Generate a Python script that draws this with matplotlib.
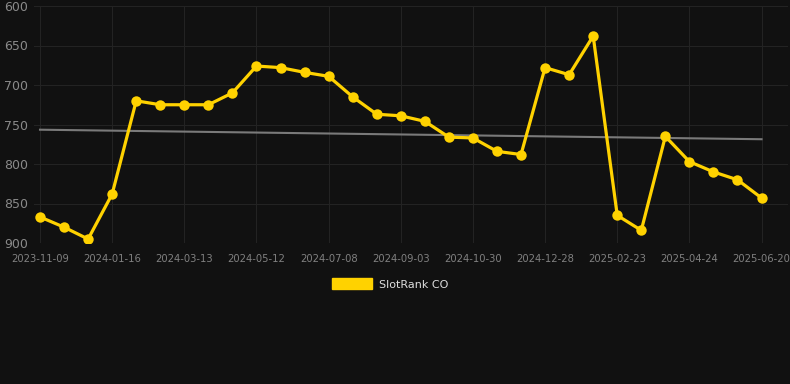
import numpy as np
import matplotlib
matplotlib.use("Agg")
import matplotlib.pyplot as plt
import matplotlib.patches as mpatches

# rank values, one point per snapshot (lower rank drawn higher)
ranks = [867, 880, 895, 838, 720, 725, 725, 725, 710, 676,
         678, 684, 689, 715, 737, 739, 746, 766, 767, 784,
         788, 678, 687, 638, 865, 884, 765, 797, 810, 820, 843]

# dates shown on the axis, every third point
tick_labels = ["2023-11-09", "2024-01-16", "2024-03-13", "2024-05-12",
               "2024-07-08", "2024-09-03", "2024-10-30", "2024-12-28",
               "2025-02-23", "2025-04-24", "2025-06-20"]
tick_step = 3

series_name = "SlotRank CO"
yticks = [600, 650, 700, 750, 800, 850, 900]

bg = "#111111"
gold = "#FFD200"

fig = plt.figure(figsize=(7.9, 3.84), dpi=100, facecolor=bg)
ax = fig.add_axes([34 / 790, 1 - 243 / 384, 754 / 790, 237 / 384])
ax.set_facecolor(bg)

x = np.arange(len(ranks))
y = np.array(ranks)

# linear trend
k, b = np.polyfit(x, y, 1)
ax.plot(x, k * x + b, color="#7a7a7a", lw=1.5, zorder=2)

ax.plot(x, y, color=gold, lw=2.3, marker="o", markersize=7.5,
        markeredgewidth=0, zorder=3)

ax.set_ylim(900, 600)
ax.set_xlim(-0.25, 31.1)
ax.set_yticks(yticks)
ax.set_xticks(x[::tick_step])
ax.set_xticklabels(tick_labels)

ax.grid(True, color="#232323", lw=0.8)
ax.set_axisbelow(True)
for s in ax.spines.values():
    s.set_visible(False)
ax.tick_params(axis="y", length=0, pad=4, labelsize=9, labelcolor="#8a8a8a")
ax.tick_params(axis="x", length=0, pad=8, labelsize=7.2, labelcolor="#808080")

handle = mpatches.Patch(color=gold, label=series_name)
leg = fig.legend(handles=[handle], loc="center", bbox_to_anchor=(390 / 790, 1 - 284 / 384),
                 frameon=False, fontsize=8, handlelength=3.6, handleheight=1.1,
                 handletextpad=0.6)
for t in leg.get_texts():
    t.set_color("#dddddd")

fig.savefig("out.png", dpi=100, facecolor=bg)
